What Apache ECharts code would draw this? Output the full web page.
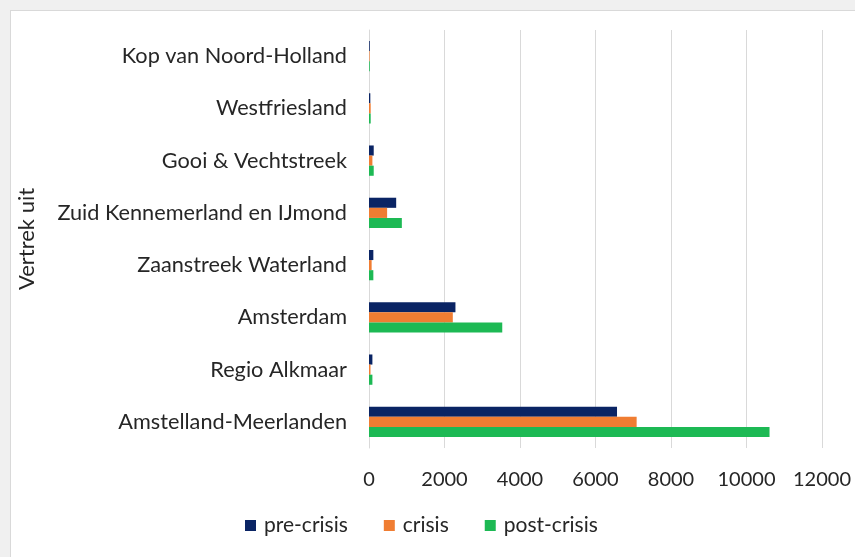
<!DOCTYPE html>
<html>
<head>
<meta charset="utf-8">
<script src="https://cdn.jsdelivr.net/npm/echarts@6/dist/echarts.min.js"></script>
<style>
  html, body { margin: 0; padding: 0; background: #f0f0f0; }
  #frame {
    position: absolute; left: 10px; top: 10px; width: 844px; height: 546px;
    background: #ffffff; border-left: 1px solid #d9d9d9; border-top: 1px solid #d9d9d9;
  }
  #chart { width: 844px; height: 546px; }
</style>
</head>
<body>
<div id="frame"><div id="chart"></div></div>
<script>
// Regions of departure, listed bottom-to-top as drawn on the category axis
const regions = [
  'Amstelland-Meerlanden',
  'Regio Alkmaar',
  'Amsterdam',
  'Zaanstreek Waterland',
  'Zuid Kennemerland en IJmond',
  'Gooi & Vechtstreek',
  'Westfriesland',
  'Kop van Noord-Holland'
];

const preCrisis  = [6570, 90, 2290, 115, 720, 125, 35, 20];
const crisis     = [7090, 40, 2220, 70, 480, 90, 45, 15];
const postCrisis = [10610, 90, 3530, 115, 870, 125, 45, 20];

const seriesNames = ['pre-crisis', 'crisis', 'post-crisis'];
const seriesColors = ['#0a2464', '#f07d32', '#1db954'];
const xTicks = { min: 0, max: 12000, interval: 2000 };

const FONT = 'Lato';
const TEXT = '#262626';
const chart = echarts.init(document.getElementById('chart'));

const values = [preCrisis, crisis, postCrisis];

chart.setOption({
  animation: false,
  textStyle: { fontFamily: FONT },
  grid: {
    left: 358, right: 33, top: 19, bottom: 109,
    containLabel: false,
    outerBoundsMode: 'none'
  },
  legend: {
    data: seriesNames,
    bottom: 16,
    left: 229,
    itemWidth: 11,
    itemHeight: 11,
    itemGap: 36,
    icon: 'rect',
    textStyle: { fontFamily: FONT, fontSize: 21, color: TEXT, padding: [0, 0, 0, 3] }
  },
  xAxis: {
    type: 'value',
    min: xTicks.min,
    max: xTicks.max,
    interval: xTicks.interval,
    axisLine: { show: false },
    axisTick: { show: false },
    axisLabel: {
      fontFamily: FONT, fontSize: 20, color: TEXT, margin: 22,
      formatter: (v) => String(v)
    },
    splitLine: { lineStyle: { color: '#d9d9d9', width: 1 } }
  },
  yAxis: {
    type: 'category',
    data: regions,
    name: 'Vertrek uit',
    nameLocation: 'middle',
    nameGap: 331,
    nameRotate: 90,
    nameTextStyle: { fontFamily: FONT, fontSize: 22, color: TEXT },
    axisLine: { show: true, lineStyle: { color: '#d9d9d9' } },
    axisTick: { show: false },
    axisLabel: { fontFamily: FONT, fontSize: 21.7, color: TEXT, margin: 22 }
  },
  series: values.map((v, i) => ({
    name: seriesNames[i],
    type: 'bar',
    data: v,
    barGap: '0%',
    barCategoryGap: '42%',
    itemStyle: { color: seriesColors[i] }
  }))
});
</script>
</body>
</html>
